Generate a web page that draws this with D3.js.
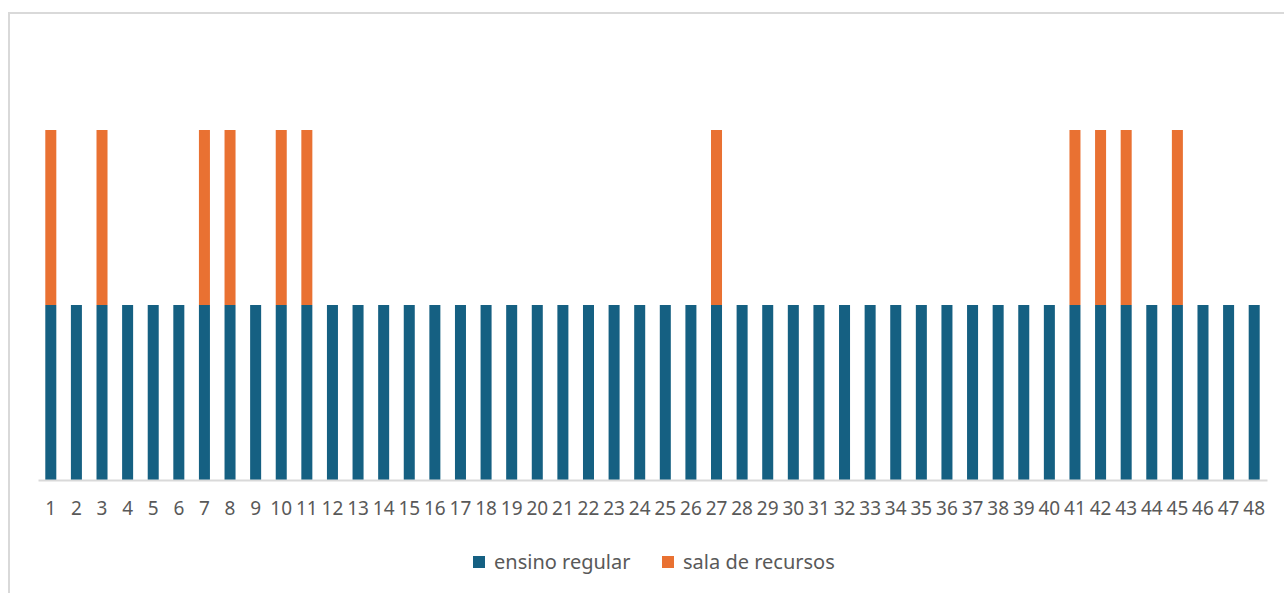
<!DOCTYPE html>
<html>
<head>
<meta charset="utf-8">
<script src="https://cdn.jsdelivr.net/npm/d3@7"></script>
<style>
  body { margin: 0; background: #fff; }
  svg { display: block; font-family: "Noto Sans", "Open Sans", sans-serif; }
</style>
</head>
<body>
<svg width="1284" height="593"></svg>
<script>
const categories = d3.range(1, 49).map(String);
const ensinoRegular = [1,1,1,1,1,1,1,1,1,1,1,1,1,1,1,1,1,1,1,1,1,1,1,1,1,1,1,1,1,1,1,1,1,1,1,1,1,1,1,1,1,1,1,1,1,1,1,1];
const salaDeRecursos = [1,0,1,0,0,0,1,1,0,1,1,0,0,0,0,0,0,0,0,0,0,0,0,0,0,0,1,0,0,0,0,0,0,0,0,0,0,0,0,0,1,1,1,0,1,0,0,0];
const seriesNames = ["ensino regular", "sala de recursos"];
const colors = ["#156082", "#E97132"];

const svg = d3.select("svg");
const margin = ({top: 42.5, right: 17, bottom: 113, left: 38});
const width = 1284;
const height = 593;

// chart frame (only top and left edges are in view)
svg.append("path")
    .attr("d", `M9,593 V13 H1284`)
    .attr("fill", "none")
    .attr("stroke", "#d9d9d9")
    .attr("stroke-width", 2);

const rows = categories.map((c, i) => ({cat: c, 0: ensinoRegular[i], 1: salaDeRecursos[i]}));
const stacked = d3.stack().keys([0, 1])(rows);

const x = d3.scaleBand()
    .domain(categories)
    .range([margin.left, width - margin.right])
    .paddingInner(0.57)
    .paddingOuter(0.285);

const y = d3.scaleLinear()
    .domain([0, 2.5])
    .range([height - margin.bottom, margin.top]);

svg.append("g")
  .selectAll("g")
  .data(stacked)
  .join("g")
    .attr("fill", (d, i) => colors[i])
  .selectAll("rect")
  .data(d => d.filter(p => p[1] > p[0]))
  .join("rect")
    .attr("x", d => x(d.data.cat))
    .attr("y", d => y(d[1]))
    .attr("width", x.bandwidth())
    .attr("height", d => y(d[0]) - y(d[1]));

const xAxis = svg.append("g")
    .attr("transform", `translate(0,${y(0)})`)
    .call(d3.axisBottom(x).tickSize(0).tickPadding(22));
xAxis.select(".domain").attr("stroke", "#d9d9d9").attr("stroke-width", 2);
xAxis.selectAll("text")
    .attr("fill", "#595959")
    .attr("font-size", 19)
    .attr("font-family", "\"Noto Sans\", sans-serif");

// legend
const legend = svg.append("g").attr("transform", "translate(473,562)");
const legendX = [0, 189];
const item = legend.selectAll("g")
  .data(seriesNames)
  .join("g")
    .attr("transform", (d, i) => `translate(${legendX[i]},0)`);
item.append("rect")
    .attr("y", -6)
    .attr("width", 12)
    .attr("height", 12)
    .attr("fill", (d, i) => colors[i]);
item.append("text")
    .attr("x", 21)
    .attr("dy", "0.35em")
    .attr("fill", "#595959")
    .attr("font-size", 20)
    .text(d => d);
</script>
</body>
</html>
